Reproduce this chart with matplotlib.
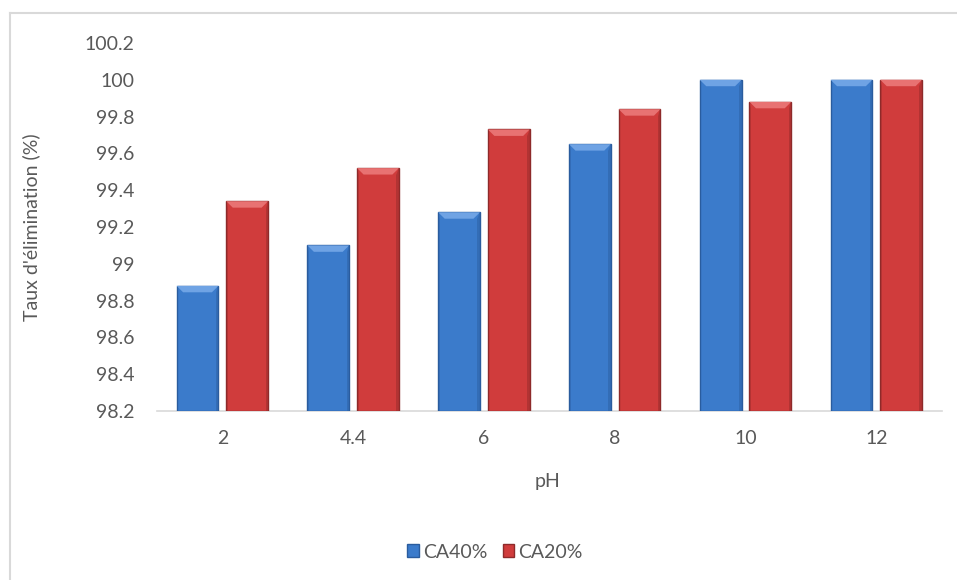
import matplotlib
matplotlib.use("Agg")
from matplotlib import pyplot as plt
from matplotlib.patches import Polygon
from matplotlib.lines import Line2D
import numpy as np

plt.rcParams['font.family'] = ['Lato', 'DejaVu Sans']

ph_labels = ["2", "4.4", "6", "8", "10", "12"]
ca40 = [98.88, 99.10, 99.28, 99.65, 100.0, 100.0]
ca20 = [99.34, 99.52, 99.73, 99.84, 99.88, 100.0]
y_ticks = [98.2, 98.4, 98.6, 98.8, 99, 99.2, 99.4, 99.6, 99.8, 100, 100.2]

fig = plt.figure(figsize=(9.57, 5.8), dpi=100)
ax = fig.add_axes([0.164, 0.2914, 0.820, 0.6345])

x = np.arange(len(ph_labels))
w = 0.32
off = 0.19
ymin = 98.2
fs = 14

def draw_bars(xs, vals, face, edge, light, label):
    bars = ax.bar(xs, np.array(vals) - ymin, w, bottom=ymin, color=face,
                  edgecolor=edge, linewidth=1.0, label=label, zorder=3)
    # bevel on top of each bar
    bh = 0.035
    bw = 0.05
    for xi, v in zip(xs, vals):
        l, r = xi - w / 2, xi + w / 2
        ax.add_patch(Polygon([[l, v], [r, v], [r - bw, v - bh], [l + bw, v - bh]],
                             closed=True, facecolor=light, edgecolor='none', zorder=4))
        # darker side strip
        ax.add_patch(Polygon([[r, v], [r, ymin], [r - 0.02, ymin], [r - 0.02, v - bh]],
                             closed=True, facecolor=edge, alpha=0.45, edgecolor='none', zorder=4))
        ax.add_patch(Polygon([[l, v], [l, ymin], [l + 0.012, ymin], [l + 0.012, v - bh]],
                             closed=True, facecolor=edge, alpha=0.3, edgecolor='none', zorder=4))
    return bars

draw_bars(x - off, ca40, '#3B7BCB', '#2A5C9E', '#6FA3E4', 'CA40%')
draw_bars(x + off, ca20, '#D03C3C', '#8E2A2A', '#E87272', 'CA20%')

ax.set_xlim(-0.5, len(ph_labels) - 0.5)
ax.set_ylim(98.2, 100.2)
ax.set_yticks(y_ticks)
ax.set_yticklabels([f"{t:g}" for t in y_ticks])
ax.set_xticks(x)
ax.set_xticklabels(ph_labels)
ax.tick_params(axis='both', length=0, labelsize=fs, colors='#595959', pad=14)
ax.tick_params(axis='y', pad=16)
for s in ['top', 'right', 'left']:
    ax.spines[s].set_visible(False)
ax.spines['bottom'].set_color('#D9D9D9')
ax.spines['bottom'].set_linewidth(1.2)

fig.text(547 / 957, 1 - 482 / 580, "pH", ha='center', va='center', fontsize=fs, color='#595959')
fig.text(31 / 957, 1 - 227 / 580, "Taux d'élimination (%)", rotation=90, ha='center',
         va='center', fontsize=fs, color='#595959')

leg = fig.legend(loc='center', bbox_to_anchor=(495 / 957, 1 - 552 / 580), ncol=2, frameon=False,
                 fontsize=fs, handlelength=0.6, handleheight=0.6, handletextpad=0.2,
                 columnspacing=0.8)
for t in leg.get_texts():
    t.set_color('#595959')

# chart area border
fig.add_artist(Line2D([10 / 957, 10 / 957], [0, 1 - 13 / 580], color='#D9D9D9', lw=1.5))
fig.add_artist(Line2D([10 / 957, 1], [1 - 13 / 580, 1 - 13 / 580], color='#D9D9D9', lw=1.5))

fig.savefig("out.png", dpi=100)
